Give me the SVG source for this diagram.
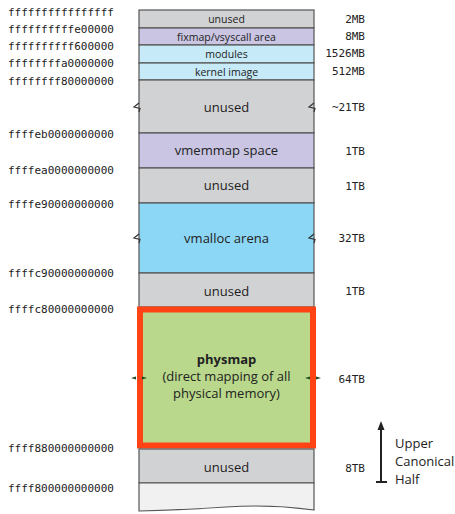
<svg xmlns="http://www.w3.org/2000/svg" width="455" height="514" viewBox="0 0 455 514">
  <style>
    .addr { font-family: "DejaVu Sans Mono", "Liberation Mono", monospace; font-size: 11px; fill: #222; }
    .size { font-family: "DejaVu Sans Mono", "Liberation Mono", monospace; font-size: 11px; fill: #222; text-anchor: end; }
    .lbl { font-family: "Open Sans", "Noto Sans", sans-serif; fill: #222; text-anchor: middle; }
    .sm { font-size: 10.5px; }
    .lg { font-size: 13px; }
    .seg { stroke: #555; stroke-width: 1.2; }
    .unused { fill: #d1d2d4; }
    .lav { fill: #c9c5e3; }
    .lblue { fill: #c7eaf8; }
    .blue { fill: #8cd6f6; }
    .brk { fill: none; stroke: #333; stroke-width: 1.2; }
    .side { font-family: "Open Sans", "Noto Sans", sans-serif; font-size: 13px; fill: #222; }
  </style>

  <!-- address column -->
  <g id="addresses">
    <text class="addr" x="8" y="16">ffffffffffffffff</text>
    <text class="addr" x="8" y="33">ffffffffffe00000</text>
    <text class="addr" x="8" y="50">ffffffffff600000</text>
    <text class="addr" x="8" y="67">ffffffffa0000000</text>
    <text class="addr" x="8" y="85">ffffffff80000000</text>
    <text class="addr" x="8" y="138">ffffeb0000000000</text>
    <text class="addr" x="8" y="174">ffffea0000000000</text>
    <text class="addr" x="8" y="208">ffffe90000000000</text>
    <text class="addr" x="8" y="277">ffffc90000000000</text>
    <text class="addr" x="8" y="313">ffffc80000000000</text>
    <text class="addr" x="8" y="452">ffff880000000000</text>
    <text class="addr" x="8" y="492">ffff800000000000</text>
  </g>

  <!-- memory regions -->
  <g id="unused-2mb">
    <rect class="seg unused" x="139" y="10" width="175" height="18"/>
    <text class="lbl sm" x="226.5" y="23">unused</text>
  </g>
  <g id="fixmap">
    <rect class="seg lav" x="139" y="28" width="175" height="17"/>
    <text class="lbl sm" x="226.5" y="40.5">fixmap/vsyscall area</text>
  </g>
  <g id="modules">
    <rect class="seg lblue" x="139" y="45" width="175" height="18"/>
    <text class="lbl sm" x="226.5" y="58">modules</text>
  </g>
  <g id="kernel-image">
    <rect class="seg lblue" x="139" y="63" width="175" height="17"/>
    <text class="lbl sm" x="226.5" y="75.5">kernel image</text>
  </g>
  <g id="unused-21tb">
    <rect class="seg unused" x="139" y="80" width="175" height="53"/>
    <path class="brk" d="M139,103 L134,107 L140,108.5 L139,112"/>
    <path class="brk" d="M314,103 L309,107 L315,108.5 L314,112"/>
    <text class="lbl lg" x="226.5" y="112">unused</text>
  </g>
  <g id="vmemmap">
    <rect class="seg lav" x="139" y="133" width="175" height="35"/>
    <text class="lbl lg" x="226.5" y="155">vmemmap space</text>
  </g>
  <g id="unused-1tb-a">
    <rect class="seg unused" x="139" y="168" width="175" height="35"/>
    <text class="lbl lg" x="226.5" y="190">unused</text>
  </g>
  <g id="vmalloc">
    <rect class="seg blue" x="139" y="203" width="175" height="70"/>
    <path class="brk" d="M139,234 L134,238 L140,239.5 L139,243"/>
    <path class="brk" d="M314,234 L309,238 L315,239.5 L314,243"/>
    <text class="lbl lg" x="226.5" y="243">vmalloc arena</text>
  </g>
  <g id="unused-1tb-b">
    <rect class="seg unused" x="139" y="273" width="175" height="34"/>
    <text class="lbl lg" x="226.5" y="296">unused</text>
  </g>
  <g id="physmap">
    <rect x="140" y="309.5" width="173" height="136" fill="#b9d88b" stroke="#ff4315" stroke-width="6"/>
    <path d="M131,378 L136,376.5 L136,379.5 Z M147,378 L142,376.5 L142,379.5 Z" fill="#1d4d1d"/>
    <path d="M305,378 L310,376.5 L310,379.5 Z M321,378 L316,376.5 L316,379.5 Z" fill="#1d4d1d"/>
    <text class="lbl" x="226.5" y="364" font-size="13" font-weight="bold">physmap</text>
    <text class="lbl lg" x="226.5" y="381">(direct mapping of all</text>
    <text class="lbl lg" x="226.5" y="398">physical memory)</text>
  </g>
  <g id="unused-8tb">
    <rect class="seg unused" x="139" y="449" width="175" height="34"/>
    <text class="lbl lg" x="226.5" y="472">unused</text>
  </g>
  <g id="lower-continuation">
    <path d="M139,483 L314,483 L314,510 Q270,504 226,507 Q180,510 139,511 Z" fill="#f1f1f2" stroke="#555" stroke-width="1.2"/>
  </g>

  <!-- region sizes -->
  <g id="sizes">
    <text class="size" x="365" y="23">2MB</text>
    <text class="size" x="365" y="40">8MB</text>
    <text class="size" x="365" y="57">1526MB</text>
    <text class="size" x="365" y="75">512MB</text>
    <text class="size" x="365" y="111">~21TB</text>
    <text class="size" x="365" y="155">1TB</text>
    <text class="size" x="365" y="190">1TB</text>
    <text class="size" x="365" y="242">32TB</text>
    <text class="size" x="365" y="295">1TB</text>
    <text class="size" x="365" y="383">64TB</text>
    <text class="size" x="365" y="472">8TB</text>
  </g>

  <!-- upper canonical half indicator -->
  <g id="connectors">
    <line x1="381" y1="482" x2="381" y2="428" stroke="#222" stroke-width="2"/>
    <line x1="376" y1="482" x2="387" y2="482" stroke="#222" stroke-width="2"/>
    <path d="M381,421 L377.5,430 L384.5,430 Z" fill="#222"/>
  </g>
  <g id="upper-canonical-half">
    <text class="side" x="395" y="448">Upper</text>
    <text class="side" x="395" y="466">Canonical</text>
    <text class="side" x="395" y="484">Half</text>
  </g>
</svg>
